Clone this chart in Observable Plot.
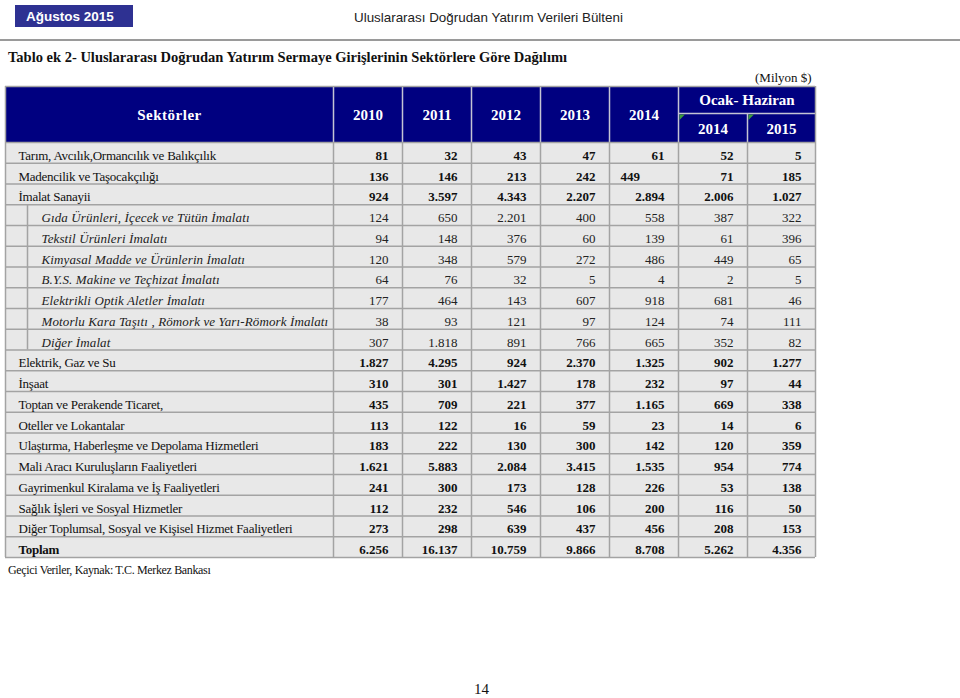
<!DOCTYPE html>
<html lang="tr">
<head>
<meta charset="utf-8">
<script src="https://cdn.jsdelivr.net/npm/d3@7"></script>
<script src="https://cdn.jsdelivr.net/npm/@observablehq/plot@0.6"></script>
<style>
html,body{margin:0;padding:0;background:#fff;}
body{width:960px;height:698px;position:relative;overflow:hidden;}
.abs{position:absolute;white-space:nowrap;color:#111;}
#banner{left:15px;top:5px;width:118px;height:22px;background:#2e3192;color:#fff;font:bold 13.5px "Liberation Sans",Arial,sans-serif;line-height:23px;padding-left:11px;box-sizing:border-box;}
#bulletin{left:354px;top:10px;font:13.4px "Liberation Sans",Arial,sans-serif;color:#222;}
#rule{left:0;top:39px;width:960px;height:2px;background:#9a9a9a;}
#title{left:8px;top:49px;font:bold 14.5px "Liberation Serif",serif;}
#unit{left:755px;top:70px;font:13px "Liberation Serif",serif;}
#foot{left:8px;top:563px;font:12px "Liberation Serif",serif;letter-spacing:-0.35px;}
#page{left:474px;top:681px;font:15px "Liberation Serif",serif;}
#chart{position:absolute;left:0;top:0;}
</style>
</head>
<body>
<div class="abs" id="banner">Ağustos 2015</div>
<div class="abs" id="bulletin">Uluslararası Doğrudan Yatırım Verileri Bülteni</div>
<div class="abs" id="rule"></div>
<div class="abs" id="title">Tablo ek 2- Uluslararası Doğrudan Yatırım Sermaye Girişlerinin Sektörlere Göre Dağılımı</div>
<div class="abs" id="unit">(Milyon $)</div>
<div id="chart"></div>
<div class="abs" id="foot">Geçici Veriler, Kaynak: T.C. Merkez Bankası</div>
<div class="abs" id="page">14</div>
<script>
// ---------- DATA ----------
const sectors = [
  "Tarım, Avcılık,Ormancılık ve Balıkçılık",
  "Madencilik ve Taşocakçılığı",
  "İmalat Sanayii",
  "Gıda Ürünleri, İçecek ve Tütün İmalatı",
  "Tekstil Ürünleri İmalatı",
  "Kimyasal Madde ve Ürünlerin İmalatı",
  "B.Y.S. Makine ve Teçhizat İmalatı",
  "Elektrikli Optik Aletler İmalatı",
  "Motorlu Kara Taşıtı , Römork ve Yarı-Römork İmalatı",
  "Diğer İmalat",
  "Elektrik, Gaz ve Su",
  "İnşaat",
  "Toptan ve Perakende Ticaret,",
  "Oteller ve Lokantalar",
  "Ulaştırma, Haberleşme ve Depolama Hizmetleri",
  "Mali Aracı Kuruluşların Faaliyetleri",
  "Gayrimenkul Kiralama ve İş Faaliyetleri",
  "Sağlık İşleri ve Sosyal Hizmetler",
  "Diğer Toplumsal, Sosyal ve Kişisel Hizmet Faaliyetleri",
  "Toplam"
];
// sub-sectors of "İmalat Sanayii"
const subsectors = [
  "Gıda Ürünleri, İçecek ve Tütün İmalatı",
  "Tekstil Ürünleri İmalatı",
  "Kimyasal Madde ve Ürünlerin İmalatı",
  "B.Y.S. Makine ve Teçhizat İmalatı",
  "Elektrikli Optik Aletler İmalatı",
  "Motorlu Kara Taşıtı , Römork ve Yarı-Römork İmalatı",
  "Diğer İmalat"
];
const totalLabel = "Toplam";
const headerLabel = "Sektörler";
const yearHeaders = ["2010", "2011", "2012", "2013", "2014"];
const periodHeader = "Ocak- Haziran";
const periodHeaders = ["2014", "2015"];

const v2010 = [81, 136, 924, 124, 94, 120, 64, 177, 38, 307, 1827, 310, 435, 113, 183, 1621, 241, 112, 273, 6256];
const v2011 = [32, 146, 3597, 650, 148, 348, 76, 464, 93, 1818, 4295, 301, 709, 122, 222, 5883, 300, 232, 298, 16137];
const v2012 = [43, 213, 4343, 2201, 376, 579, 32, 143, 121, 891, 924, 1427, 221, 16, 130, 2084, 173, 546, 639, 10759];
const v2013 = [47, 242, 2207, 400, 60, 272, 5, 607, 97, 766, 2370, 178, 377, 59, 300, 3415, 128, 106, 437, 9866];
const v2014 = [61, 449, 2894, 558, 139, 486, 4, 918, 124, 665, 1325, 232, 1165, 23, 142, 1535, 226, 200, 456, 8708];
const h2014 = [52, 71, 2006, 387, 61, 449, 2, 681, 74, 352, 902, 97, 669, 14, 120, 954, 53, 116, 208, 5262];
const h2015 = [5, 185, 1027, 322, 396, 65, 5, 46, 111, 82, 1277, 44, 338, 6, 359, 774, 138, 50, 153, 4356];
const series = [v2010, v2011, v2012, v2013, v2014, h2014, h2015];

// ---------- LAYOUT ----------
const colW = [328, 69, 69, 69, 69, 69, 69, 68];
const E = [0, ...Array.from(d3.cumsum(colW))];
const headH1 = 27, headH2 = 29, headH = headH1 + headH2;
const rowH = 20.75;
const tableW = E[E.length - 1];
const tableH = headH + sectors.length * rowH;
const pad = 14, base = 3.3;
const subSet = new Set(subsectors);
// a cell that the source shows left-aligned
const leftAligned = [{sector: "Madencilik ve Taşocakçılığı", col: 4}];
const isLeft = (i, j) => leftAligned.some(c => c.sector === sectors[i] && c.col === j);

const fmt = d3.formatLocale({decimal: ",", thousands: ".", grouping: [3], currency: ["", ""]}).format(",d");

const cells = [];
sectors.forEach((s, i) => series.forEach((arr, j) => {
  const left = isLeft(i, j);
  cells.push({
    text: fmt(arr[i]),
    x: left ? E[j + 1] + 11 : E[j + 2] - pad,
    y: headH + (i + 1) * rowH - base,
    bold: !subSet.has(s),
    left
  });
}));

const labels = sectors.map((s, i) => ({
  text: s,
  x: subSet.has(s) ? 36 : 13,
  y: headH + (i + 1) * rowH - base,
  kind: s === totalLabel ? "total" : subSet.has(s) ? "sub" : "main"
}));

const headTexts = [
  {t: headerLabel, x: (E[0] + E[1]) / 2, y: headH / 2 + 1},
  ...yearHeaders.map((t, j) => ({t, x: (E[j + 1] + E[j + 2]) / 2, y: headH / 2 + 1})),
  {t: periodHeader, x: (E[6] + E[8]) / 2, y: headH1 / 2},
  ...periodHeaders.map((t, k) => ({t, x: (E[6 + k] + E[7 + k]) / 2, y: headH1 + headH2 / 2 + 1}))
];

const rowLines = d3.range(sectors.length + 1).map(i => headH + i * rowH);
const firstSub = sectors.indexOf(subsectors[0]);
const lastSub = sectors.indexOf(subsectors[subsectors.length - 1]);

const cornerSymbol = {
  draw(ctx, size) {
    const r = Math.sqrt(size / Math.PI) * 1.8;
    ctx.moveTo(0, 0); ctx.lineTo(r, 0); ctx.lineTo(0, r); ctx.closePath();
  }
};
const markers = [{x: E[6] + 1, y: headH1 + 1}, {x: E[7] + 1, y: headH1 + 1}];

const grid = "#a3a3a3";
const headLine = "#c4c4d4";
const serif = "Liberation Serif, Times New Roman, serif";

const plot = Plot.plot({
  width: 960,
  height: 698,
  x: {type: "linear", domain: [0, tableW], range: [5, 815], axis: null},
  y: {type: "linear", domain: [0, tableH], range: [86, 86 + tableH], axis: null},
  style: {background: "transparent", overflow: "visible"},
  marks: [
    Plot.rect([0], {x1: 0, x2: tableW, y1: 0, y2: headH, fill: "#000080"}),
    Plot.rect([0], {x1: 0, x2: tableW, y1: headH, y2: tableH, fill: "#e8e8e8"}),
    Plot.ruleX(E.slice(1, 7), {x: d => d, y1: 0, y2: headH, stroke: headLine, strokeWidth: 1.5}),
    Plot.ruleX([E[7]], {x: d => d, y1: headH1, y2: headH, stroke: headLine, strokeWidth: 1.5}),
    Plot.ruleY([headH1], {y: d => d, x1: E[6], x2: E[8], stroke: headLine, strokeWidth: 1.5}),
    Plot.ruleY(rowLines, {y: d => d, x1: 0, x2: tableW, stroke: grid, strokeWidth: 1.5}),
    Plot.ruleX(E, {x: d => d, y1: headH, y2: tableH, stroke: grid, strokeWidth: 1.5}),
    Plot.ruleX([22], {x: d => d, y1: headH + firstSub * rowH, y2: headH + (lastSub + 1) * rowH, stroke: grid, strokeWidth: 1.5}),
    Plot.ruleX([0, tableW], {x: d => d, y1: 0, y2: headH, stroke: grid, strokeWidth: 1.5}),
    Plot.ruleY([0], {y: d => d, x1: 0, x2: tableW, stroke: grid, strokeWidth: 1.5}),
    Plot.dot(markers, {x: "x", y: "y", symbol: cornerSymbol, r: 3, fill: "#3c9a3c", stroke: null}),
    Plot.text(headTexts, {x: "x", y: "y", text: "t", fill: "#fff", fontSize: 15, fontWeight: "bold", fontFamily: serif, lineAnchor: "middle"}),
    Plot.text(labels.filter(d => d.kind === "main"), {x: "x", y: "y", text: "text", textAnchor: "start", lineAnchor: "bottom", fontSize: 13, fontFamily: serif, fill: "#111"}),
    Plot.text(labels.filter(d => d.kind === "total"), {x: "x", y: "y", text: "text", textAnchor: "start", lineAnchor: "bottom", fontSize: 13, fontWeight: "bold", fontFamily: serif, fill: "#111"}),
    Plot.text(labels.filter(d => d.kind === "sub"), {x: "x", y: "y", text: "text", textAnchor: "start", lineAnchor: "bottom", fontSize: 13, fontStyle: "italic", fontFamily: serif, fill: "#222"}),
    Plot.text(cells.filter(d => d.bold && !d.left), {x: "x", y: "y", text: "text", textAnchor: "end", lineAnchor: "bottom", fontSize: 13, fontWeight: "bold", fontFamily: serif, fill: "#111"}),
    Plot.text(cells.filter(d => d.bold && d.left), {x: "x", y: "y", text: "text", textAnchor: "start", lineAnchor: "bottom", fontSize: 13, fontWeight: "bold", fontFamily: serif, fill: "#111"}),
    Plot.text(cells.filter(d => !d.bold), {x: "x", y: "y", text: "text", textAnchor: "end", lineAnchor: "bottom", fontSize: 13, fontFamily: serif, fill: "#222"})
  ]
});
// typographic tracking of the row labels, as in the source
const mainSet = new Set(labels.filter(d => d.kind !== "sub").map(d => d.text));
d3.select(plot).selectAll("text").each(function () {
  const t = this.textContent;
  if (mainSet.has(t)) this.style.letterSpacing = "-0.25px";
  else if (subSet.has(t)) this.style.letterSpacing = "0.12px";
  else if (t === headerLabel) this.style.letterSpacing = "0.5px";
});
document.getElementById("chart").appendChild(plot);
</script>
</body>
</html>
